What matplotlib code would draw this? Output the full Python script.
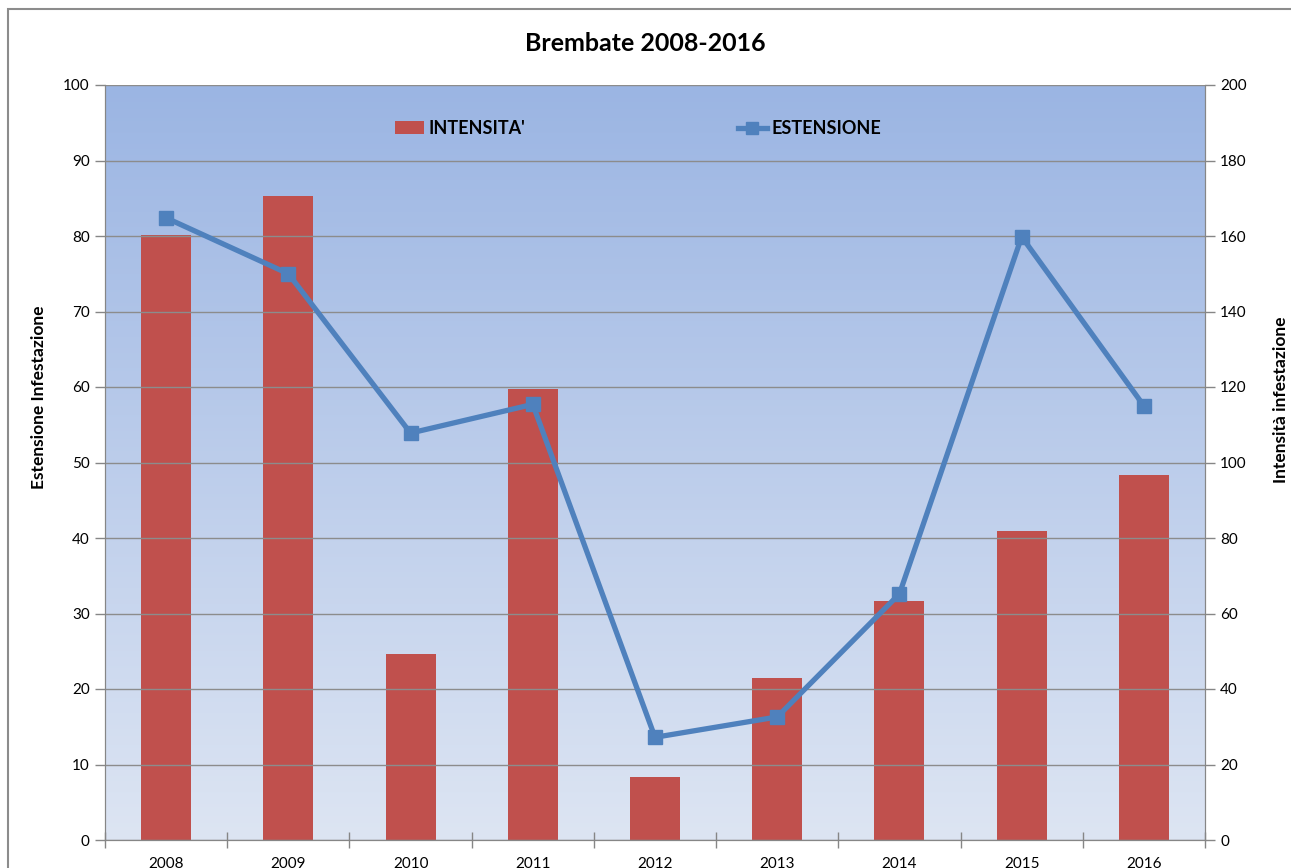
import numpy as np
import matplotlib
matplotlib.use("Agg")
import matplotlib.pyplot as plt
from matplotlib.colors import LinearSegmentedColormap
from matplotlib.patches import Rectangle
from matplotlib.lines import Line2D
from matplotlib.patches import Patch

plt.rcParams['font.family'] = ['Lato', 'DejaVu Sans']

# Dati
anni = ['2008', '2009', '2010', '2011', '2012', '2013', '2014', '2015', '2016']
intensita = [160.3, 170.6, 49.3, 119.5, 16.7, 42.9, 63.3, 81.9, 96.7]   # asse destro
estensione = [82.4, 75.0, 53.9, 57.7, 13.6, 16.3, 32.6, 79.9, 57.5]     # asse sinistro

rosso = '#C0504D'
blu = '#4F81BD'
grigio = '#868686'

fig = plt.figure(figsize=(12.91, 8.68), dpi=100)
fig.patches.append(Rectangle((8 / 1291, -0.1), 1.2, 1.1 - 9 / 868, transform=fig.transFigure,
                             fill=False, edgecolor='#8c8c8c', linewidth=1.5))

ax = fig.add_axes([105 / 1291, 28 / 868, 1100 / 1291, 755 / 868])
x = np.arange(len(anni))

# sfondo sfumato
sfondo = LinearSegmentedColormap.from_list('sf', ['#DDE5F3', '#9BB5E3'])
ax.imshow(np.linspace(0, 1, 256).reshape(-1, 1), cmap=sfondo, origin='lower', aspect='auto',
          extent=(-0.5, len(anni) - 0.5, 0, 200), zorder=0)

# barre (intensità) sull'asse destro
ax.bar(x, intensita, width=0.41, color=rosso, zorder=2)
ax.set_ylim(0, 200)
ax.set_xlim(-0.5, len(anni) - 0.5)
ax.set_yticks(np.arange(0, 201, 20))
ax.yaxis.grid(True, color='#8c8c8c', linewidth=1, zorder=1)
ax.set_axisbelow(False)

# linea (estensione) sull'asse sinistro
ax2 = ax.twinx()
ax2.plot(x, estensione, color=blu, linewidth=3.8, marker='s', markersize=10, zorder=3)
ax2.set_ylim(0, 100)
ax2.set_yticks(np.arange(0, 101, 10))
ax2.yaxis.tick_left()
ax2.yaxis.set_label_position('left')
ax2.set_ylabel('Estensione Infestazione', fontsize=12.5, fontweight='bold')
ax2.yaxis.set_label_coords(-0.0527, 0.587)

ax.yaxis.tick_right()
ax.yaxis.set_label_position('right')
ax.set_ylabel('Intensità infestazione', fontsize=12.5, fontweight='bold')
ax.yaxis.set_label_coords(1.062, 0.583)

for a in (ax, ax2):
    a.tick_params(axis='y', labelsize=11, color=grigio, length=7, width=1, pad=4)
    for s in a.spines.values():
        s.set_color(grigio)
    a.spines['top'].set_visible(False)

ax.set_xticks(x)
ax.set_xticklabels(anni)
ax.set_xticks(np.arange(-0.5, len(anni)), minor=True)
ax.tick_params(axis='x', which='major', length=0, labelsize=11, pad=12)
ax.tick_params(axis='x', which='minor', direction='inout', length=12, color=grigio, width=1)

fig.suptitle('Brembate 2008-2016', fontsize=18, fontweight='bold', y=0.963)

maniglie = [Patch(facecolor=rosso, edgecolor='none'),
            Line2D([0], [0], color=blu, linewidth=3.8, marker='s', markersize=9)]
leg = ax2.legend(maniglie, ["INTENSITA'", 'ESTENSIONE'], loc='upper center',
                 bbox_to_anchor=(0.4845, 0.975), ncol=2, frameon=False, columnspacing=11.8,
                 handlelength=1.6, handletextpad=0.25, prop={'size': 13, 'weight': 'bold'})

fig.savefig('out.png', dpi=100)
